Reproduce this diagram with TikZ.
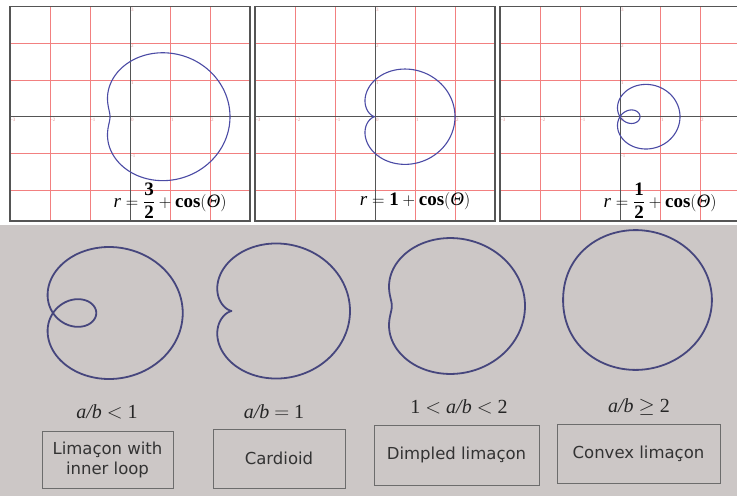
\documentclass[tikz,border=0pt]{standalone}
\usepackage{amsmath}
\usepackage{amssymb}
\usepackage{fontspec}
\setmainfont{Liberation Serif}
\newfontfamily\boxfont{DejaVu Sans}

\definecolor{gridred}{RGB}{242,128,128}
\definecolor{axisgray}{RGB}{85,85,85}
\definecolor{plotblue}{RGB}{75,75,165}
\definecolor{inkblue}{RGB}{70,70,125}
\definecolor{paper}{RGB}{204,199,198}
\definecolor{ticklabel}{RGB}{225,150,150}

\tikzset{
  polar curve/.style={plotblue, line width=1.1pt, smooth, samples=181, domain=0:360},
  book curve/.style={inkblue, line width=1.8pt, smooth, samples=181, domain=0:360},
  tick label/.style={anchor=north west, inner sep=1pt, text=ticklabel, font=\fontsize{5}{5}\selectfont},
  formula/.style={anchor=base, inner sep=1pt, font=\fontsize{19}{22}\selectfont},
  ratio/.style={anchor=base, inner sep=1pt, text=black!85, font=\fontsize{20}{22}\selectfont},
  name box/.style={draw=gray!85!black, line width=0.7pt, align=center, text=black!80,
    font=\boxfont\fontsize{16.5}{20}\selectfont}
}

\begin{document}
\begin{tikzpicture}[x=1pt,y=-1pt]

\useasboundingbox (0,0) rectangle (737,496);
\fill[white] (0,0) rectangle (737,225);

% Draw the three plotted panels
\foreach \ox/\k in {130/1.5, 375/1, 620/0.5} {
  \begin{scope}[shift={(\ox,116.7)}, x=40pt, y=36.7pt]
    % grid
    \foreach \g in {-2,-1,1,2} {
      \draw[gridred, thin] (\g,-2.84) -- (\g,3);
      \draw[gridred, thin] (-3,\g) -- (3,\g);
    }
    % axes
    \draw[axisgray, line width=1pt] (-3,0) -- (3,0);
    \draw[axisgray, line width=1pt] (0,-2.84) -- (0,3);
    % axis labels
    \foreach \t in {-3,...,2}
      \node[tick label] (tx\t) at (\t,0) {\t};
    \foreach \t in {-1,1,2,3}
      \node[tick label] (ty\t) at (0,\t) {\t};
    % the curve
    \draw[polar curve] plot ({(\k+cos(\x))*cos(\x)},{(\k+cos(\x))*sin(\x)});
    % frame
    \draw[axisgray, line width=1.2pt] (-3,-2.84) rectangle (3,3);
  \end{scope}
}

% Equations
\node[formula] (eqA) at (170,207) {$\text{\itshape r}=\dfrac{\text{\bfseries 3}}{\text{\bfseries 2}}+\text{\bfseries cos}(\text{\itshape Θ})$};
\node[formula] (eqB) at (415,205) {$\text{\itshape r}=\text{\bfseries 1}+\text{\bfseries cos}(\text{\itshape Θ})$};
\node[formula] (eqC) at (660,207) {$\text{\itshape r}=\dfrac{\text{\bfseries 1}}{\text{\bfseries 2}}+\text{\bfseries cos}(\text{\itshape Θ})$};

% The book page
\fill[paper] (0,225) rectangle (737,496);

% Draw the four limacons
\foreach \ox/\oy/\sx/\sy/\k in {53/313/86.5/75/0.5, 232/311/59/52/1, 414/306/44.4/39/1.5, 612.7/300/24.8/22.2/3}
  \draw[book curve] plot ({\ox+\sx*(\k+cos(\x))*cos(\x)},{\oy+\sy*(\k+cos(\x))*sin(\x)});

% Ratio labels
\node[ratio] (ratioA) at (107,418) {\textit{a/b} $<$ 1};
\node[ratio] (ratioB) at (274,418) {\textit{a/b} $=$ 1};
\node[ratio] (ratioC) at (459,413) {1 $<$ \textit{a/b} $<$ 2};
\node[ratio] (ratioD) at (639,412) {\textit{a/b} $\geq$ 2};

% Name boxes
\node[name box, minimum width=131pt, minimum height=57pt] (boxA) at (107.5,459.5) {Limaçon with\\inner loop};
\node[name box, minimum width=132pt, minimum height=59pt] (boxB) at (279,458.5) {Cardioid};
\node[name box, minimum width=165pt, minimum height=60pt] (boxC) at (456.5,455) {Dimpled limaçon};
\node[name box, minimum width=163pt, minimum height=59pt] (boxD) at (638.5,453.5) {Convex limaçon};

\end{tikzpicture}
\end{document}
